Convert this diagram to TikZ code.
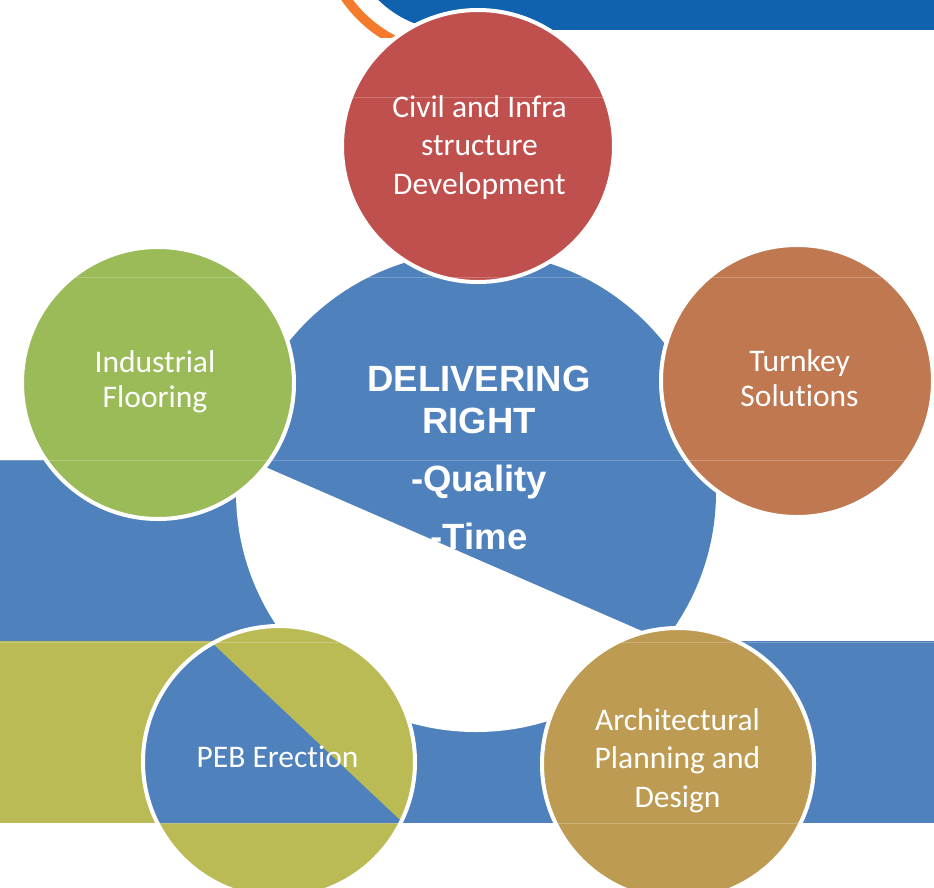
\documentclass[tikz,border=0pt]{standalone}
\usepackage{fontspec}
\setmainfont{Carlito}[Ligatures=NoCommon]
\newfontfamily\hubfont{Liberation Sans}
\definecolor{topblue}{HTML}{1062AE}
\definecolor{swoosh}{HTML}{F47A2C}
\definecolor{bandblue}{HTML}{4F81BD}
\definecolor{civilred}{HTML}{C0504D}
\definecolor{floorgreen}{HTML}{9BBB59}
\definecolor{turnkeyorange}{HTML}{BF7850}
\definecolor{pebolive}{HTML}{BBBB56}
\definecolor{archgold}{HTML}{BE9B52}
\tikzset{
  bubble/.style={circle, minimum size=272pt, inner sep=0pt, draw=white, line width=4pt},
  lbl/.style={text=white, align=center, inner sep=0pt, font=\fontsize{31.5}{38.5}\selectfont},
  lbltwo/.style={lbl, font=\fontsize{31.5}{35}\selectfont},
  hubtext/.style={text=white, align=center, inner sep=0pt, font=\hubfont\bfseries\fontsize{36.5}{42}\selectfont},
  seam/.style={white, opacity=0.22, line width=1pt}
}
\begin{document}
\begin{tikzpicture}[x=1pt,y=-1pt]
\useasboundingbox (0,0) rectangle (934,887);
\clip (0,0) rectangle (934,887);
% top bar with swoosh
\begin{scope}
  \clip (0,0) rectangle (934,37);
  \draw[swoosh, line width=9.5pt] (453,-76) circle (130.3pt);
\end{scope}
\begin{scope}
  \clip (0,0) rectangle (934,30);
  \fill[topblue] (453,-76) circle (106.5pt);
  \fill[topblue] (453,0) rectangle (934,30);
\end{scope}
% background bands
\fill[bandblue] (0,460) rectangle (480,641);
\fill[pebolive] (0,641) rectangle (280,823);
\fill[bandblue] (280,641) rectangle (934,823);
% central hub
\node[circle, minimum size=480pt, inner sep=0pt, fill=white] (hub) at (476,492) {};
\begin{scope}
  \clip (476,492) circle (240pt);
  \fill[bandblue] (200,438.4) -- (760,682.3) -- (760,200) -- (200,200) -- cycle;
\end{scope}
% PEB circle with split fill
\fill[pebolive] (279,762) circle (136pt);
\begin{scope}
  \clip (279,762) circle (136pt);
  \fill[bandblue] (100,641) -- (209.9,641) -- (403.1,823) -- (100,823) -- cycle;
\end{scope}
\node[bubble] (peb) at (279,762) {};
% other circles
\node[bubble, fill=civilred] (civil) at (478,146) {};
\node[bubble, fill=floorgreen] (floor) at (158,383) {};
\node[bubble, fill=turnkeyorange] (turnkey) at (797,381) {};
\node[bubble, fill=archgold] (arch) at (678,764) {};
% faint tile seams
\foreach \yy in {97,277,460,642,823} \draw[seam] (0,\yy) -- (934,\yy);
% labels
\node[lbl] (civiltxt) at (479.5,147.5) {Civil and Infra\\structure\\Development};
\node[lbltwo] (floortxt) at (155,381.5) {Industrial\\Flooring};
\node[lbltwo] (turnkeytxt) at (799.5,378.5) {Turnkey\\Solutions};
\node[lbl] (archtxt) at (677.5,760.5) {Architectural\\Planning and\\Design};
\node[lbl, anchor=base] (pebtxt) at (277.5,767) {PEB Erection};
\node[hubtext] (hubtxt) at (479,458) {DELIVERING\\RIGHT\\[16pt]-Quality\\[16pt]-Time};
\end{tikzpicture}
\end{document}
